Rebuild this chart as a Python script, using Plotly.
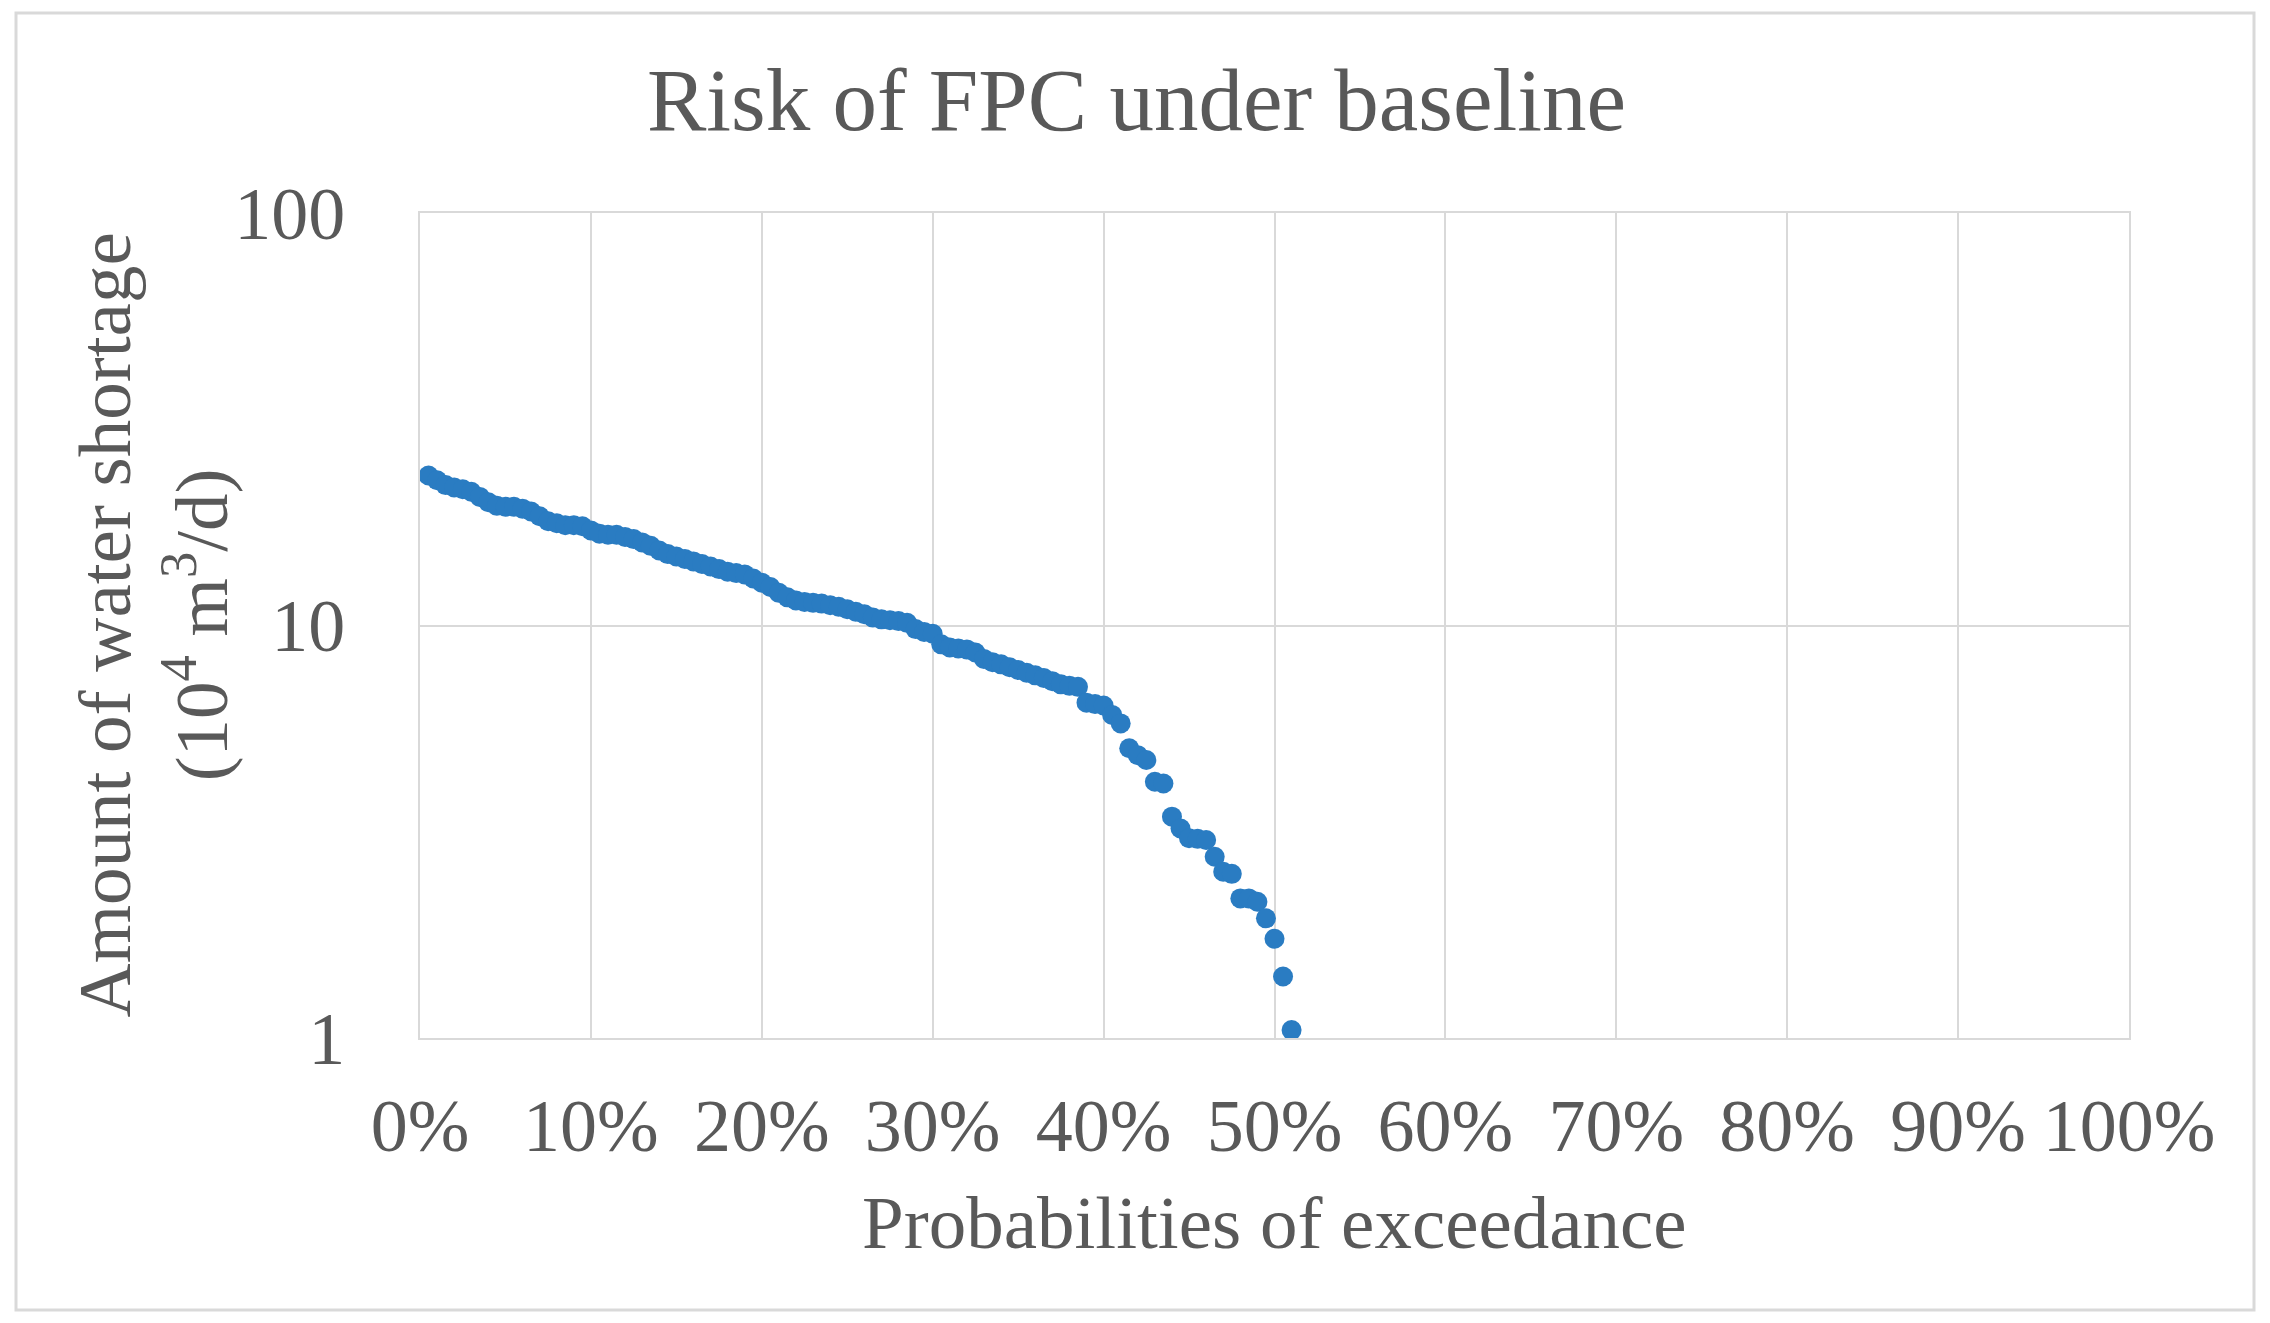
import plotly.graph_objects as go

# Probabilities of exceedance (%)
prob = [0.5, 1.0, 1.5, 2.0, 2.5, 3.0, 3.5, 4.0, 4.5, 5.0,
        5.5, 6.0, 6.5, 7.0, 7.5, 8.0, 8.5, 9.0, 9.5, 10.0,
        10.5, 11.0, 11.5, 12.0, 12.5, 13.0, 13.5, 14.0, 14.5, 15.0,
        15.5, 16.0, 16.5, 17.0, 17.5, 18.0, 18.5, 19.0, 19.5, 20.0,
        20.5, 21.0, 21.5, 22.0, 22.5, 23.0, 23.5, 24.0, 24.5, 25.0,
        25.5, 26.0, 26.5, 27.0, 27.5, 28.0, 28.5, 29.0, 29.5, 30.0,
        30.5, 31.0, 31.5, 32.0, 32.5, 33.0, 33.5, 34.0, 34.5, 35.0,
        35.5, 36.0, 36.5, 37.0, 37.5, 38.0, 38.5, 39.0, 39.5, 40.0,
        40.5, 41.0, 41.5, 42.0, 42.5, 43.0, 43.5, 44.0, 44.5, 45.0,
        45.5, 46.0, 46.5, 47.0, 47.5, 48.0, 48.5, 49.0, 49.5, 50.0,
        50.5, 51.0]

# Amount of water shortage (10^4 m3/d)
shortage = [23.1, 22.5, 21.9, 21.6, 21.4, 21.1, 20.5, 19.9, 19.5, 19.4,
            19.4, 19.2, 18.9, 18.4, 17.9, 17.7, 17.5, 17.5, 17.4, 17.0,
            16.7, 16.6, 16.6, 16.4, 16.2, 15.9, 15.6, 15.2, 14.9, 14.7,
            14.5, 14.3, 14.1, 13.9, 13.7, 13.5, 13.4, 13.3, 13.0, 12.7,
            12.4, 12.0, 11.7, 11.5, 11.4, 11.35, 11.3, 11.2, 11.1, 10.95,
            10.8, 10.65, 10.45, 10.35, 10.3, 10.25, 10.15, 9.8, 9.65, 9.55,
            9.0, 8.85, 8.8, 8.75, 8.6, 8.3, 8.15, 8.05, 7.92, 7.8,
            7.68, 7.57, 7.46, 7.33, 7.2, 7.14, 7.1, 6.5, 6.45, 6.4,
            6.07, 5.79, 5.04, 4.85, 4.72, 4.18, 4.14, 3.44, 3.22, 3.05,
            3.04, 3.02, 2.75, 2.53, 2.5, 2.18, 2.18, 2.14, 1.95, 1.74,
            1.41, 1.045]

x_ticks = [0, 10, 20, 30, 40, 50, 60, 70, 80, 90, 100]
x_ticklabels = ["0%", "10%", "20%", "30%", "40%", "50%", "60%", "70%", "80%", "90%", "100%"]
y_ticks = [1, 10, 100]
y_ticklabels = ["1", "10", "100"]

title_text = "Risk of FPC under baseline"
x_title = "Probabilities of exceedance"
y_title = "Amount of water shortage<br>(10<sup>4</sup> m<sup>3</sup>/d)"

FONT = "Liberation Serif, Times New Roman, serif"
TXT = "#595959"
GRID = "#d9d9d9"

W, H = 2270, 1323
L, R, T, B = 420, 141, 213, 285
pw, ph = W - L - R, H - T - B

fig = go.Figure()
fig.add_trace(go.Scatter(
    x=prob, y=shortage, mode="markers",
    marker=dict(size=20, color="#2a7cc2", line=dict(width=0)),
    showlegend=False,
))

fig.update_layout(
    width=W, height=H, autosize=False,
    margin=dict(l=L, r=R, t=T, b=B, pad=0),
    paper_bgcolor="white", plot_bgcolor="white",
    font=dict(family=FONT, color=TXT, size=74),
    xaxis=dict(
        range=[0, 100], tickvals=x_ticks, ticktext=x_ticklabels,
        showgrid=True, gridcolor=GRID, gridwidth=2,
        zeroline=False, showline=True, linecolor=GRID, linewidth=2, mirror=True,
        ticks="outside", ticklen=22, tickcolor="rgba(0,0,0,0)",
        tickfont=dict(family=FONT, size=74, color=TXT),
    ),
    yaxis=dict(
        type="log", range=[0, 2], tickvals=y_ticks, ticktext=y_ticklabels,
        showgrid=True, gridcolor=GRID, gridwidth=2,
        zeroline=False, showline=True, linecolor=GRID, linewidth=2, mirror=True,
        ticks="outside", ticklen=58, tickcolor="rgba(0,0,0,0)",
        tickfont=dict(family=FONT, size=74, color=TXT),
    ),
    annotations=[
        dict(text=title_text, xref="paper", yref="paper",
             x=(1136 - L) / pw, y=(H - B - 100) / ph,
             xanchor="center", yanchor="middle", showarrow=False,
             font=dict(family=FONT, size=89, color=TXT)),
        dict(text=x_title, xref="paper", yref="paper",
             x=0.5, y=(H - B - 1222) / ph,
             xanchor="center", yanchor="middle", showarrow=False,
             font=dict(family=FONT, size=75, color=TXT)),
        dict(text=y_title, xref="paper", yref="paper",
             x=(153 - L) / pw, y=0.5, textangle=-90,
             xanchor="center", yanchor="middle", showarrow=False,
             font=dict(family=FONT, size=75, color=TXT)),
    ],
    shapes=[
        dict(type="rect", xref="paper", yref="paper",
             x0=(16 - L) / pw, x1=(2254 - L) / pw,
             y0=(H - B - 1310) / ph, y1=(H - B - 13) / ph,
             line=dict(color=GRID, width=3), fillcolor="rgba(0,0,0,0)", layer="below"),
    ],
)

fig.write_html("out.html", config={"displayModeBar": False},
               post_script="document.body.style.margin='0';document.body.style.overflow='hidden';")
